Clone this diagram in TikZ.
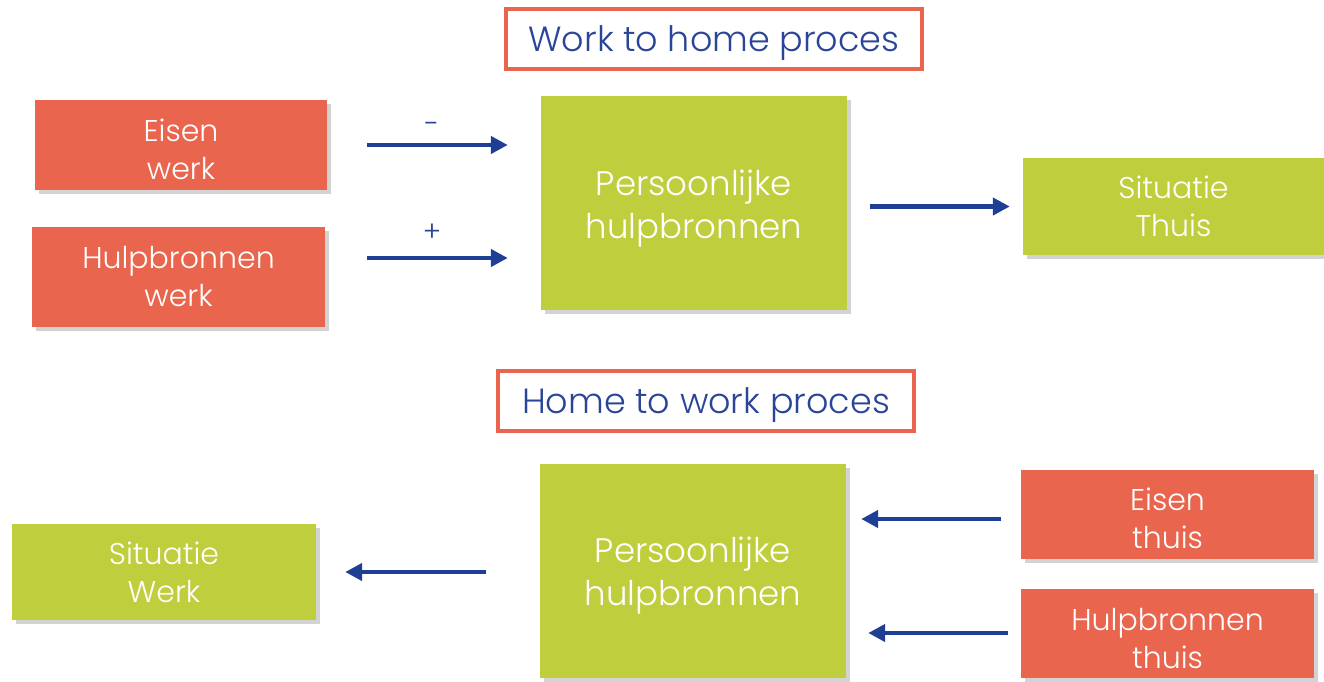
\documentclass[tikz,border=0pt]{standalone}
\usepackage{fontspec}
\setmainfont{Poppins}[UprightFont=* Light]
\usetikzlibrary{arrows.meta,shadows}

\definecolor{boxred}{HTML}{E9654E}
\definecolor{boxgreen}{HTML}{BFCE3D}
\definecolor{arrowblue}{HTML}{1F3F94}
\definecolor{titleblue}{HTML}{2A4597}

\tikzset{
  redbox/.style={fill=boxred, inner sep=0pt,
    drop shadow={shadow xshift=4pt, shadow yshift=-4pt, opacity=0.35}},
  greenbox/.style={fill=boxgreen, inner sep=0pt,
    drop shadow={shadow xshift=4pt, shadow yshift=-4pt, opacity=0.35}},
  titlebox/.style={draw=boxred, line width=4pt, text=titleblue, inner sep=0pt,
    text depth=0pt, font=\fontsize{35}{40}\selectfont},
  smalltxt/.style={text=white, align=center, font=\fontsize{30}{38}\selectfont},
  bigtxt/.style={text=white, align=center, font=\fontsize{34}{43}\selectfont},
  flow/.style={draw=arrowblue, line width=4.5pt,
    -{Triangle[length=17pt,width=17pt]}},
  sign/.style={text=titleblue, font=\fontsize{28}{30}\selectfont}
}

\begin{document}
\begin{tikzpicture}[x=1pt,y=-1pt]
  \useasboundingbox (0,0) rectangle (1324,681);

  % work to home
  \node[titlebox, minimum width=416pt, minimum height=60pt] (title1) at (714,39) {Work to home proces};
  \node[redbox, minimum width=292pt, minimum height=90pt,
    label={[smalltxt, yshift=-4pt]center:Eisen\\werk}] (eisenW) at (181,145) {};
  \node[redbox, minimum width=293pt, minimum height=100pt,
    label={[smalltxt]center:Hulpbronnen\\werk}] (hulpW) at (178.5,277) {};
  \node[greenbox, minimum width=306pt, minimum height=214pt,
    label={[bigtxt, yshift=-6pt]center:Persoonlijke\\hulpbronnen}] (pers1) at (694,203) {};
  \node[greenbox, minimum width=301pt, minimum height=97pt,
    label={[smalltxt]center:Situatie\\Thuis}] (sitT) at (1173.5,206.5) {};

  \coordinate (a1) at (367,145);
  \coordinate (a2) at (367,258);
  \draw[flow, shorten >=33pt] (a1) -- (a1 -| pers1.west) node[sign, pos=0.374, yshift=17pt] {-};
  \draw[flow, shorten >=33pt] (a2) -- (a2 -| pers1.west) node[sign, pos=0.374, yshift=25pt] {+};
  \draw[flow, shorten <=23pt, shorten >=13pt] (pers1.east |- sitT) -- (sitT.west);

  % home to work
  \node[titlebox, minimum width=416pt, minimum height=60pt] (title2) at (706,401) {Home to work proces};
  \node[greenbox, minimum width=304pt, minimum height=96pt,
    label={[smalltxt]center:Situatie\\Werk}] (sitW) at (164,572) {};
  \node[greenbox, minimum width=306pt, minimum height=214pt,
    label={[bigtxt, yshift=-5pt]center:Persoonlijke\\hulpbronnen}] (pers2) at (693,571) {};
  \node[redbox, minimum width=293pt, minimum height=89pt,
    label={[smalltxt, yshift=-4pt]center:Eisen\\thuis}] (eisenT) at (1167.5,514.5) {};
  \node[redbox, minimum width=293pt, minimum height=89pt,
    label={[smalltxt, yshift=-5pt]center:Hulpbronnen\\thuis}] (hulpT) at (1167.5,633.5) {};

  \coordinate (b1) at (1001,519);
  \coordinate (b2) at (1008,633);
  \draw[flow, shorten >=15pt] (b1) -- (b1 -| pers2.east);
  \draw[flow, shorten >=22pt] (b2) -- (b2 -| pers2.east);
  \draw[flow, shorten <=54pt, shorten >=29pt] (pers2.west |- sitW) -- (sitW.east);
\end{tikzpicture}
\end{document}
